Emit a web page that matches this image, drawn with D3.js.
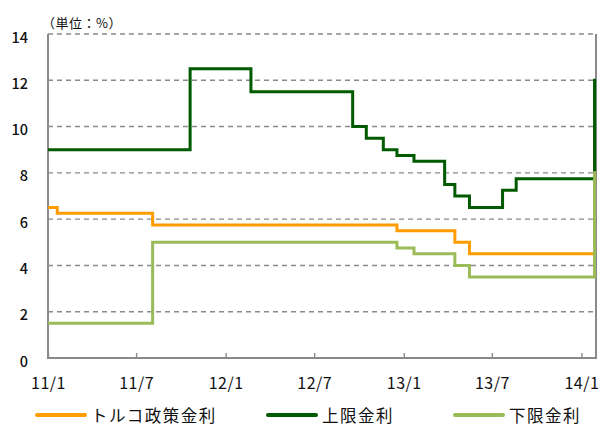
<!DOCTYPE html>
<html>
<head>
<meta charset="utf-8">
<script src="https://cdn.jsdelivr.net/npm/d3@7"></script>
<style>
    body { margin: 0; background: #fff; }
    text { font-family: "Noto Sans CJK JP", "Noto Sans", sans-serif; fill: #111; }
</style>
</head>
<body>
<svg id="chart" width="602" height="428"></svg>
<script>
// change dates (step after) and rate levels, %
const dates = ["2011-01-01", "2011-01-20", "2011-08-04", "2011-10-20", "2012-02-22", "2012-09-18",
    "2012-10-16", "2012-11-20", "2012-12-18", "2013-01-22", "2013-03-26", "2013-04-16",
    "2013-05-16", "2013-07-23", "2013-08-20", "2014-01-28", "2014-01-31"];
const policyRate = [6.5, 6.25, 5.75, 5.75, 5.75, 5.75, 5.75, 5.75, 5.5, 5.5, 5.5, 5.0, 4.5, 4.5, 4.5, 10, 10];
const upperRate = [9, 9, 9, 12.5, 11.5, 10, 9.5, 9, 8.75, 8.5, 7.5, 7.0, 6.5, 7.25, 7.75, 12, 12];
const lowerRate = [1.5, 1.5, 5.0, 5.0, 5.0, 5.0, 5.0, 5.0, 4.75, 4.5, 4.5, 4.0, 3.5, 3.5, 3.5, 8, 8];

const seriesNames = ["トルコ政策金利", "上限金利", "下限金利"];
const seriesColors = ["#ff9c00", "#005a00", "#9bbb59"];
const xTicks = ["2011-01-01", "2011-07-01", "2012-01-01", "2012-07-01", "2013-01-01", "2013-07-01", "2014-01-01"];
const xTickLabels = ["11/1", "11/7", "12/1", "12/7", "13/1", "13/7", "14/1"];
const yTicks = [0, 2, 4, 6, 8, 10, 12, 14];
const unitLabel = "（単位：%）";

const svg = d3.select('#chart');
const plot = { left: 48, right: 596, top: 34, bottom: 358 };
const parse = d3.timeParse("%Y-%m-%d");

const x = d3.scaleTime()
    .domain([parse("2011-01-01"), parse("2014-01-31")])
    .range([plot.left, plot.right]);
const y = d3.scaleLinear()
    .domain([0, 14])
    .range([plot.bottom, plot.top]);

// grid
svg.append("g")
    .selectAll("line")
    .data(yTicks.filter(d => d > 0))
    .enter().append("line")
    .attr("x1", plot.left).attr("x2", plot.right)
    .attr("y1", d => y(d)).attr("y2", d => y(d))
    .attr("stroke", "#8a8a8a")
    .attr("stroke-width", 1.4)
    .attr("stroke-dasharray", "5,4");

// y labels
svg.append("g")
    .selectAll("text")
    .data(yTicks)
    .enter().append("text")
    .attr("x", 28)
    .attr("y", d => y(d) + 2)
    .attr("text-anchor", "end")
    .attr("dominant-baseline", "central")
    .style("font-size", "14.5px")
    .style("font-weight", "500")
    .text(d => d);

svg.append("text")
    .attr("x", 42)
    .attr("y", 22)
    .attr("dominant-baseline", "central")
    .style("font-size", "13px")
    .style("letter-spacing", "0.5px")
    .text(unitLabel);

// x axis with inner ticks
const xAxis = d3.axisBottom(x)
    .tickValues(xTicks.map(parse))
    .tickSizeInner(-5)
    .tickSizeOuter(0)
    .tickFormat((d, i) => xTickLabels[i]);
const gx = svg.append("g")
    .attr("transform", "translate(0," + plot.bottom + ")")
    .call(xAxis);
gx.select(".domain").remove();
gx.selectAll(".tick line").attr("stroke", "#8a8a8a").attr("stroke-width", 1.4);
gx.selectAll(".tick text")
    .attr("y", 24)
    .attr("dy", null)
    .attr("dominant-baseline", "central")
    .style("font-size", "16px")
    .style("letter-spacing", "0.5px")
    .style("font-family", '"Noto Sans CJK JP", sans-serif')
    .attr("fill", "#111");

// frame: left, bottom, right
svg.append("path")
    .attr("d", "M" + plot.left + "," + plot.top + "V" + plot.bottom + "H" + plot.right + "V" + plot.top)
    .attr("fill", "none")
    .attr("stroke", "#8a8a8a")
    .attr("stroke-width", 2);

// lines
const line = d3.line()
    .x(d => x(d.date))
    .y(d => y(d.value))
    .curve(d3.curveStepAfter);

[policyRate, upperRate, lowerRate].forEach((vals, i) => {
    const data = dates.map((d, k) => ({ date: parse(d), value: vals[k] }));
    svg.append("path")
        .datum(data)
        .attr("d", line)
        .attr("fill", "none")
        .attr("stroke", seriesColors[i])
        .attr("stroke-width", 3);
});

// legend
const legendX = [37, 268, 455];
seriesNames.forEach((name, i) => {
    const g = svg.append("g").attr("transform", "translate(" + legendX[i] + ",415)");
    g.append("line")
        .attr("x1", 0).attr("x2", 48)
        .attr("stroke", seriesColors[i])
        .attr("stroke-width", 4)
        .attr("stroke-linecap", "round");
    g.append("text")
        .attr("x", 54)
        .attr("y", 0)
        .attr("dominant-baseline", "central")
        .style("font-size", "16.5px")
        .style("letter-spacing", "1.5px")
        .text(name);
});
</script>
</body>
</html>
